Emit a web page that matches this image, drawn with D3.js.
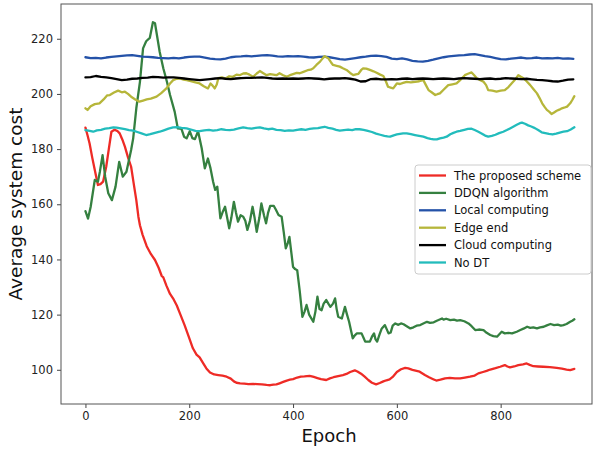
<!DOCTYPE html>
<html>
<head>
<meta charset="utf-8">
<script src="https://cdn.jsdelivr.net/npm/d3@7"></script>
<style>
  html, body { margin: 0; padding: 0; background: #fff; }
  svg { display: block; font-family: "DejaVu Sans", sans-serif; }
</style>
</head>
<body>
<svg id="chart" width="593" height="451"></svg>
<script>
// Series names and colours, in legend order
const seriesNames = ["The proposed scheme", "DDQN algorithm", "Local computing", "Edge end", "Cloud computing", "No DT"];
const seriesColors = ["#ee2b26", "#358040", "#2452a8", "#b6b63a", "#000000", "#22bcbc"];

const xTicks = [0, 200, 400, 600, 800];
const yTicks = [100, 120, 140, 160, 180, 200, 220];

// [epoch, average system cost]
const proposed = [[0,187.8],[4,185],[8,182],[13,177],[18,172.4],[24,167],[29,167.3],[34,168.2],[40,173.6],[45,180],[50,186.3],[56,187],[62,186.5],[66,185.7],[71,183.5],[76,180.9],[82,177],[88,173.6],[93,167.5],[98,161.5],[102,155.5],[105,152.4],[110,149],[118,144.8],[126,142],[134,139.8],[141,137],[147,134],[150,133.5],[156,130.5],[163,127.5],[170,125.5],[176,123.3],[183,120],[191,116.2],[199,112],[207,107.8],[214,105.5],[220,104.5],[227,102.3],[233,100.5],[240,99],[248,98.3],[256,98.1],[264,97.9],[272,97.5],[280,96.8],[286,95.8],[291,95.3],[298,95.1],[306,95],[314,94.8],[323,94.9],[331,94.8],[340,94.7],[349,94.5],[356,94.4],[362,94.6],[368,94.7],[374,95.1],[381,95.6],[388,96.1],[394,96.4],[400,96.6],[408,97.2],[415,97.5],[422,97.6],[432,97.8],[440,97.4],[447,97],[454,96.6],[464,96.3],[471,96.9],[478,97.3],[487,97.7],[496,98.1],[503,98.5],[510,99.2],[519,99.8],[524,99.4],[531,98.6],[538,97.5],[545,96.3],[552,95.3],[560,94.7],[567,95.2],[574,95.8],[580,96.2],[586,96.5],[592,97.4],[600,99.2],[608,100.2],[616,100.7],[622,100.5],[630,100],[638,99.6],[644,99.3],[654,98.1],[662,97.3],[670,96.6],[676,96.1],[684,96.4],[693,96.9],[702,97.1],[712,96.9],[722,96.9],[731,97.2],[741,97.5],[750,97.9],[757,98.7],[766,99.2],[773,99.6],[780,100.1],[790,100.6],[799,101.1],[808,101.7],[813,101.2],[818,100.9],[826,101.2],[834,101.7],[843,102],[850,102.3],[856,101.8],[863,101.3],[872,101.2],[882,101.1],[895,101],[908,100.7],[918,100.4],[927,100.1],[934,99.9],[942,100.3]];

const ddqn = [[0,157.5],[5,154.8],[10,159],[18,168.8],[24,168.2],[28,172],[33,177.8],[38,170],[44,164],[51,161.5],[58,166.4],[65,175.4],[72,170],[79,171.8],[88,179.7],[92,183.9],[98,194.8],[105,204.4],[111,216.5],[117,219.1],[124,220.3],[130,226],[134,225.6],[143,215.3],[150,209.3],[157,204.4],[163,199.6],[172,193.5],[178,187.5],[185,187.3],[190,184.5],[195,183.9],[201,186.5],[206,184],[211,183.6],[217,186.5],[224,180.3],[230,173],[236,176.6],[241,173],[246,168.2],[250,165.2],[254,166.4],[260,154.9],[264,157],[269,159.1],[277,151.3],[281,155],[286,160.9],[290,157],[294,153.7],[299,156],[304,155.5],[308,154],[312,150.7],[317,154],[322,159.1],[326,155],[330,150],[335,155],[339,160.3],[344,156],[348,153.1],[352,157],[356,159.4],[363,159.4],[367,158],[372,156.1],[378,155.5],[382,150],[386,144],[390,146],[393,148.2],[397,142],[400,137.3],[404,136.5],[408,136.1],[413,128.3],[418,119.2],[422,121],[426,123.5],[431,120],[439,117.4],[443,121],[447,126.5],[451,122],[455,121.6],[459,124],[464,125.3],[468,124],[472,122.8],[477,124],[481,125.9],[484,122],[487,119.2],[494,118.6],[500,122.8],[504,120],[508,117.4],[512,114],[515,111.4],[519,112.5],[523,113.2],[532,113.2],[536,111.5],[539,110.2],[548,110.2],[552,112],[556,113.2],[559,111],[562,110.2],[567,113],[571,115],[577,116.2],[584,113.2],[588,113.5],[592,116],[597,116.8],[603,116.3],[608,116.8],[613,116.5],[619,115.8],[626,115],[632,115.4],[638,116],[645,116.2],[651,116.8],[658,117.4],[664,117],[671,117.2],[677,117.8],[687,118.6],[690,118.2],[695,118.5],[703,118],[710,118.2],[716,117.8],[722,118],[730,117.6],[738,116.8],[744,115.8],[751,114.4],[758,114.6],[767,114.4],[773,113.4],[780,112.6],[786,112.2],[793,112],[797,112.8],[802,113.8],[808,113.2],[815,113.4],[822,113.2],[831,113.8],[838,114.4],[845,115],[851,115.6],[857,115.2],[863,115.4],[870,115],[876,115.4],[883,115.6],[889,116.1],[896,116.6],[903,116.2],[910,116.4],[916,116],[921,116.2],[927,116.6],[934,117.4],[938,117.8],[942,118.3]];

const localComputing = [[0,213.3],[10,213],[20,213.1],[30,212.9],[40,213.2],[50,213.4],[60,213.6],[70,213.8],[80,214],[90,214.1],[100,213.8],[110,213.5],[120,213.4],[130,213.3],[140,213.1],[150,213],[160,212.9],[170,213.1],[180,212.9],[190,213.2],[200,213.4],[210,213.5],[220,213.5],[230,213.2],[240,212.8],[250,212.6],[260,212.5],[270,212.8],[280,213.3],[290,213.5],[300,213.6],[310,213.8],[320,213.6],[330,213.8],[340,214],[350,214.1],[360,213.9],[370,213.6],[380,213.5],[390,213.7],[400,213.6],[410,213.7],[420,213.5],[430,213.3],[440,213.2],[450,213.4],[460,213.5],[470,213.3],[480,213],[490,212.6],[500,212.4],[510,212.7],[520,213],[530,213.3],[540,213.5],[550,213.8],[560,213.9],[570,213.7],[580,213.4],[590,212.8],[600,212.6],[610,212.9],[620,212.5],[630,212],[640,211.8],[650,211.7],[660,212],[670,212.4],[680,212.9],[690,213.3],[700,213.6],[710,213.8],[720,214],[730,214.1],[740,214.3],[750,214.4],[760,214.1],[770,213.7],[780,213.4],[790,213],[800,212.6],[810,212.5],[820,212.8],[830,213],[840,213.2],[850,212.9],[860,213],[870,213.2],[880,212.9],[890,213],[900,212.9],[910,213.1],[920,212.8],[930,212.9],[940,212.7]];

const edgeEnd = [[0,194.8],[4,194.2],[10,195.5],[18,196.3],[27,196.6],[35,198],[42,199.5],[47,199.6],[55,200.5],[63,201.2],[70,200.6],[76,200.8],[82,200],[88,199],[96,198],[104,197.2],[111,197.6],[118,198],[126,198.3],[137,199],[146,200.3],[156,202],[163,203.8],[169,205],[176,205.5],[182,205.6],[189,205.2],[195,205],[203,204.6],[210,204.3],[220,203.8],[228,202.8],[236,202],[241,203.8],[245,203],[249,202],[253,203.4],[256,205.7],[263,206],[270,205.6],[277,206.4],[284,206.2],[291,207],[297,206.8],[304,207.4],[310,207.5],[316,207],[323,206.2],[330,207.4],[336,208.3],[342,207.6],[349,206.8],[356,207.2],[362,207],[368,206.8],[374,207.5],[381,206.8],[388,206.2],[394,206.8],[400,207.2],[407,207.6],[413,207.5],[420,208],[428,208.6],[434,208.8],[439,209.3],[445,210.5],[452,211.7],[457,212.9],[461,213.7],[465,213.2],[468,212.9],[473,211.5],[477,210.5],[484,210.2],[490,209.9],[496,209.3],[503,208.7],[510,207.6],[516,206.8],[521,207.1],[526,207.3],[531,208.6],[535,209.3],[541,209.2],[548,208.7],[555,208.2],[561,207.7],[568,207],[574,206.5],[579,204.5],[583,202.6],[588,202.3],[593,202],[600,203.8],[606,203.6],[612,204],[619,204.4],[627,204.2],[635,204.4],[643,204.6],[651,205],[656,203.2],[661,201.4],[667,200.6],[674,199.6],[678,199.9],[683,200.2],[690,201.5],[699,203.2],[707,203.5],[715,203.8],[723,205.2],[731,206.8],[737,207.3],[744,207.8],[749,206.8],[754,205.7],[760,205.1],[767,204.4],[772,203.2],[776,201.4],[784,201.2],[792,200.8],[800,201.2],[808,201.4],[815,202.5],[821,203.8],[828,205.2],[834,206.8],[839,206.2],[844,205.7],[850,204.6],[857,203.2],[863,201.8],[870,200.2],[875,198.5],[880,196.6],[885,195.2],[889,194.2],[894,193.5],[898,192.7],[903,193.3],[908,193.9],[913,194.3],[918,194.8],[922,195],[928,195.4],[934,196.6],[938,197.8],[942,199.2]];

const cloudComputing = [[0,206],[10,206.1],[20,206.5],[30,206.2],[40,206],[50,205.7],[60,205.4],[70,205],[80,205.2],[90,205.5],[100,205.6],[110,205.8],[120,205.9],[130,206.2],[140,206.1],[150,205.9],[160,206],[170,206],[180,205.8],[190,205.6],[200,205.4],[210,205.2],[220,205],[230,205.2],[240,205.4],[250,205.6],[260,205.7],[270,205.5],[280,205.4],[290,205.6],[300,205.7],[310,205.8],[320,205.8],[330,205.9],[340,206],[350,205.8],[360,205.6],[370,205.5],[380,205.6],[390,205.5],[400,205.6],[410,205.5],[420,205.6],[430,205.7],[440,205.6],[450,205.5],[460,205.3],[470,205.5],[480,205.6],[490,205.6],[500,205.7],[510,205.5],[520,205.2],[530,204.5],[540,204.6],[550,205.4],[560,205.5],[570,205.3],[580,205.3],[590,205.4],[600,205.3],[610,205.5],[620,205.6],[630,205.4],[640,205.5],[650,205.6],[660,205.5],[670,205.4],[680,205.5],[690,205.6],[700,205.5],[710,205.4],[720,205.6],[730,205.7],[740,205.6],[750,205.5],[760,205.4],[770,205.5],[780,205.6],[790,205.4],[800,205.5],[810,205.7],[820,205.6],[830,205.5],[840,205.4],[850,205.5],[860,205.3],[870,205.1],[880,205],[890,204.8],[900,204.6],[910,204.5],[920,204.8],[930,205.2],[940,205.3]];

const noDT = [[0,186.9],[8,186.6],[15,186.3],[22,186.8],[30,187],[38,187.4],[46,187.6],[54,187.9],[60,187.8],[68,187.5],[76,187.2],[84,186.9],[92,186.7],[100,186.2],[108,185.7],[117,185.1],[125,185.4],[134,185.9],[143,186.3],[151,186.8],[160,187.4],[169,187.9],[177,188],[185,187.7],[195,187.5],[203,187.1],[212,186.6],[220,186.5],[229,186.8],[238,187],[246,186.7],[254,186.9],[262,187.2],[270,187],[278,186.9],[286,187.1],[295,187.5],[304,187.9],[312,187.6],[320,187.4],[328,187.7],[336,187.9],[344,187.5],[352,187.2],[360,187.4],[368,187],[376,186.9],[384,186.6],[392,186.8],[400,186.7],[408,187],[416,187.2],[424,187],[432,187.3],[440,187.5],[448,187.6],[455,187.9],[461,188.1],[468,187.7],[476,187.4],[483,187],[490,186.7],[498,186.9],[506,187.1],[514,186.9],[521,187.2],[528,187.2],[536,187],[544,186.6],[552,186.2],[560,185.6],[568,185.2],[576,184.8],[582,184.6],[587,184.5],[594,185],[600,185.3],[606,185.5],[612,185.7],[619,185.7],[627,185.4],[635,185.1],[643,184.8],[651,184.5],[659,184],[665,183.7],[671,183.5],[677,183.5],[683,183.9],[690,184.2],[696,184.5],[703,185.4],[709,185.9],[715,186.3],[722,186.6],[730,187],[737,187.3],[744,187.4],[750,186.9],[757,186.3],[764,185.6],[770,184.9],[776,184.5],[783,184.8],[790,185.2],[797,185.8],[805,186.3],[812,186.9],[818,187.5],[825,188.2],[831,188.8],[837,189.4],[841,189.6],[847,189.2],[853,188.6],[859,188.2],[866,187.6],[873,186.8],[879,186.1],[886,185.8],[893,185.5],[900,185.3],[907,185.6],[914,186],[921,186.3],[928,186.5],[935,187.1],[942,187.9]];

const seriesData = [proposed, ddqn, localComputing, edgeEnd, cloudComputing, noDT];

// Layout
const plot = { left: 61, right: 592, top: 4, bottom: 404 };

const svg = d3.select("#chart");

const x = d3.scaleLinear().domain([-47.1, 976]).range([plot.left, plot.right]);
const y = d3.scaleLinear().domain([87.6, 232.6]).range([plot.bottom, plot.top]);

// One path per series
const line = d3.line().x(d => x(d[0])).y(d => y(d[1]));
const linesG = svg.append("g");
seriesData.forEach((s, i) => {
  linesG.append("path")
    .datum(s)
    .attr("fill", "none")
    .attr("stroke", seriesColors[i])
    .attr("stroke-width", 2.3)
    .attr("stroke-linejoin", "round")
    .attr("stroke-linecap", "round")
    .attr("d", line);
});

// Axes
const xAxis = d3.axisBottom(x).tickValues(xTicks).tickSize(4).tickPadding(4).tickFormat(d3.format("d"));
const yAxis = d3.axisLeft(y).tickValues(yTicks).tickSize(4).tickPadding(4).tickFormat(d3.format("d"));

const gx = svg.append("g").attr("transform", `translate(0,${plot.bottom})`).call(xAxis);
const gy = svg.append("g").attr("transform", `translate(${plot.left},0)`).call(yAxis);
[gx, gy].forEach(g => {
  g.select(".domain").remove();
  g.selectAll(".tick line").attr("stroke", "#444").attr("stroke-width", 1);
  g.selectAll(".tick text").attr("fill", "#222").style("font-size", "11.5px").style("font-family", "DejaVu Sans");
});

// Frame
svg.append("rect")
  .attr("x", plot.left).attr("y", plot.top)
  .attr("width", plot.right - plot.left).attr("height", plot.bottom - plot.top)
  .attr("fill", "none").attr("stroke", "#555").attr("stroke-width", 1);

// Axis titles
svg.append("text")
  .attr("x", 329).attr("y", 442)
  .attr("text-anchor", "middle")
  .style("font-size", "18px").attr("fill", "#111")
  .text("Epoch");

svg.append("text")
  .attr("transform", `translate(22,204) rotate(-90)`)
  .attr("text-anchor", "middle")
  .style("font-size", "18.5px").attr("fill", "#111")
  .text("Average system cost");

// Legend
const legend = svg.append("g").attr("transform", "translate(415,165)");
legend.append("rect")
  .attr("width", 176).attr("height", 109)
  .attr("rx", 3).attr("ry", 3)
  .attr("fill", "rgba(255,255,255,0.85)")
  .attr("stroke", "#ccc").attr("stroke-width", 1);
seriesNames.forEach((name, i) => {
  const cy = 10.5 + i * 17.4;
  legend.append("line")
    .attr("x1", 4).attr("x2", 31).attr("y1", cy).attr("y2", cy)
    .attr("stroke", seriesColors[i]).attr("stroke-width", 2.3);
  legend.append("text")
    .attr("x", 39).attr("y", cy + 4)
    .style("font-size", "11.5px").attr("fill", "#111")
    .text(name);
});
</script>
</body>
</html>
